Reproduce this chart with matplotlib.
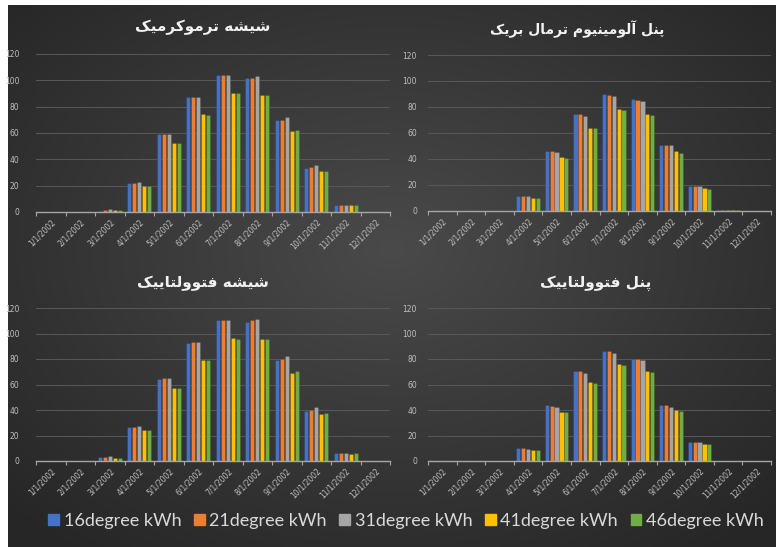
import numpy as np
import matplotlib
matplotlib.use("Agg")
import matplotlib.pyplot as plt

# data (kWh per month)
months = ['1/1/2002', '2/1/2002', '3/1/2002', '4/1/2002', '5/1/2002', '6/1/2002',
          '7/1/2002', '8/1/2002', '9/1/2002', '10/1/2002', '11/1/2002', '12/1/2002']
series_names = ['16degree kWh', '21degree kWh', '31degree kWh', '41degree kWh', '46degree kWh']
series_colors = ['#4472C4', '#ED7D31', '#A5A5A5', '#FFC000', '#70AD47']

titles = ['شیشه ترموکرمیک', 'پنل آلومینیوم ترمال بریک', 'شیشه فتوولتاییک', 'پنل فتوولتاییک']

thermo_glass = [
    [0, 0, 1.0, 22, 59, 87.5, 104, 102, 70, 33.5, 5, 0],
    [0, 0, 1.5, 22, 59, 87.5, 104, 102, 70, 34, 5, 0],
    [0, 0, 2.5, 23, 59, 87.5, 104, 103, 72, 35.5, 5, 0],
    [0, 0, 1.5, 20, 52.5, 74.5, 90.5, 88.5, 61.5, 31, 5, 0],
    [0, 0, 1.5, 20, 52.5, 74, 90, 88.5, 62, 31, 5, 0],
]
alu_panel = [
    [0, 0, 0, 11.3, 46.5, 74.7, 90.3, 86, 50.4, 19, 0.8, 0],
    [0, 0, 0, 11.3, 46, 74.7, 89.5, 85.2, 50.4, 19, 0.8, 0],
    [0, 0, 0, 11.3, 45.3, 73.2, 88.5, 84.6, 50.4, 19, 0.8, 0],
    [0, 0, 0, 10.3, 41.7, 64.2, 78.3, 74.5, 45.8, 17.4, 0.5, 0],
    [0, 0, 0, 10.2, 40.7, 64, 77.5, 74, 45, 17.3, 0.5, 0],
]
pv_glass = [
    [0, 0, 3, 26.5, 64.7, 92.2, 110.3, 109.2, 79, 39.6, 6, 0],
    [0, 0, 3, 27, 65, 93.2, 110.3, 110.3, 80, 40.3, 6, 0],
    [0, 0, 3.7, 27.8, 65, 93, 110.3, 111.4, 82, 42, 6.5, 0],
    [0, 0, 2.5, 24, 57, 79.2, 96.2, 95.5, 69.2, 36.9, 5.5, 0],
    [0, 0, 2.5, 24.5, 57.5, 79.5, 96, 96, 70.3, 37.7, 6.5, 0],
]
pv_panel = [
    [0, 0, 0, 10, 44, 70.7, 86, 80, 43.8, 15.2, 0, 0],
    [0, 0, 0, 10, 43.2, 70.7, 86, 80, 43.8, 15, 0, 0],
    [0, 0, 0, 9.2, 42.2, 69.2, 84.6, 78.9, 42.7, 14.6, 0, 0],
    [0, 0, 0, 9, 38.8, 61.9, 76, 70.7, 39.8, 13.6, 0, 0],
    [0, 0, 0, 8.6, 38.6, 61, 75.2, 70, 39.3, 13.6, 0, 0],
]
panels = [thermo_glass, alu_panel, pv_glass, pv_panel]

# contextual forms for the Persian letters used in the titles
FORMS = {
    'ا': ('\uFE8D', '\uFE8E', None, None),
    'آ': ('\uFE81', '\uFE82', None, None),
    'ب': ('\uFE8F', '\uFE90', '\uFE91', '\uFE92'),
    'پ': ('\uFB56', '\uFB57', '\uFB58', '\uFB59'),
    'ت': ('\uFE95', '\uFE96', '\uFE97', '\uFE98'),
    'ر': ('\uFEAD', '\uFEAE', None, None),
    'ش': ('\uFEB5', '\uFEB6', '\uFEB7', '\uFEB8'),
    'ف': ('\uFED1', '\uFED2', '\uFED3', '\uFED4'),
    'ک': ('\uFB8E', '\uFB8F', '\uFB90', '\uFB91'),
    'ل': ('\uFEDD', '\uFEDE', '\uFEDF', '\uFEE0'),
    'م': ('\uFEE1', '\uFEE2', '\uFEE3', '\uFEE4'),
    'ن': ('\uFEE5', '\uFEE6', '\uFEE7', '\uFEE8'),
    'و': ('\uFEED', '\uFEEE', None, None),
    'ه': ('\uFEE9', '\uFEEA', '\uFEEB', '\uFEEC'),
    'ی': ('\uFBFC', '\uFBFD', '\uFBFE', '\uFBFF'),
}


def shape(s):
    # matplotlib has no text shaping, so pick glyph forms and reverse for RTL
    out = []
    for i, ch in enumerate(s):
        if ch not in FORMS:
            out.append(ch)
            continue
        prev = s[i - 1] if i > 0 else ''
        nxt = s[i + 1] if i + 1 < len(s) else ''
        iso, fin, ini, med = FORMS[ch]
        jp = prev in FORMS and FORMS[prev][2] is not None
        jn = ini is not None and nxt in FORMS
        if jp and jn:
            out.append(med)
        elif jp:
            out.append(fin)
        elif jn:
            out.append(ini)
        else:
            out.append(iso)
    return ''.join(reversed(out))


W, H = 776, 547
fig = plt.figure(figsize=(W / 100, H / 100), dpi=100)
fig.patch.set_facecolor('white')

# dark radial background
bg = fig.add_axes([8 / W, 0, 1 - 8 / W, 1 - 5 / H])
yy, xx = np.mgrid[0:1:300j, 0:1:400j]
r = np.sqrt(((xx - 0.5) / 0.75) ** 2 + ((yy - 0.45) / 0.75) ** 2)
shade = np.clip(0.29 - 0.15 * r, 0.15, 0.3)
bg.imshow(np.dstack([shade] * 3), aspect='auto', extent=[0, 1, 0, 1])
bg.axis('off')

# axes boxes in pixels: left, right, y of 120, y of 0
boxes = [(36, 390, 54, 212), (428, 771, 55, 211), (36, 390, 308, 461), (428, 771, 308, 461)]
title_pos = [(203, 27), (577, 29), (203, 283), (596, 283)]
title_size = [11, 10, 11, 11]

x = np.arange(len(months))
bw = 0.17
for k, (data, box) in enumerate(zip(panels, boxes)):
    l, rgt, ytop, ybot = box
    ax = fig.add_axes([l / W, 1 - ybot / H, (rgt - l) / W, (ybot - ytop) / H])
    ax.set_facecolor('none')
    for i, vals in enumerate(data):
        ax.bar(x + (i - 2) * bw, vals, width=bw * 0.88, color=series_colors[i],
               edgecolor='#00000033', linewidth=0.4, zorder=3)
    ax.set_xlim(-0.5, 11.5)
    ax.set_ylim(0, 120)
    ax.set_yticks(range(0, 121, 20))
    ax.grid(axis='y', color='#595959', linewidth=0.7, zorder=0)
    for s in ['top', 'right', 'left']:
        ax.spines[s].set_visible(False)
    ax.spines['bottom'].set_color('#a6a6a6')
    ax.spines['bottom'].set_linewidth(1.0)
    ax.spines['bottom'].set_zorder(4)
    ax.set_xticks(np.arange(-0.5, 12, 1), minor=True)
    ax.set_xticks(x)
    ax.tick_params(axis='x', which='major', length=0, pad=4)
    ax.tick_params(axis='x', which='minor', length=3, color='#a6a6a6', width=0.8)
    ax.set_xticklabels(months, rotation=45, ha='right', rotation_mode='anchor',
                       fontsize=5.5, color='#bfbfbf')
    ax.tick_params(axis='y', length=0, labelsize=5.5, labelcolor='#bfbfbf',
                   pad=12 if k % 2 == 0 else 8)
    tx, ty = title_pos[k]
    fig.text(tx / W, 1 - ty / H, shape(titles[k]), ha='center', va='center',
             fontsize=title_size[k], fontweight='bold', color='#f2f2f2', family='DejaVu Sans')

handles = [plt.Rectangle((0, 0), 1, 1, color=c) for c in series_colors]
fig.legend(handles, series_names, loc='center', bbox_to_anchor=(406 / W, 1 - 521 / H),
           ncol=5, frameon=False, labelcolor='#d9d9d9',
           handlelength=0.6, handleheight=0.6, handletextpad=0.25, columnspacing=0.7,
           prop={'family': 'Lato', 'size': 13})

fig.savefig('out.png', dpi=100)
